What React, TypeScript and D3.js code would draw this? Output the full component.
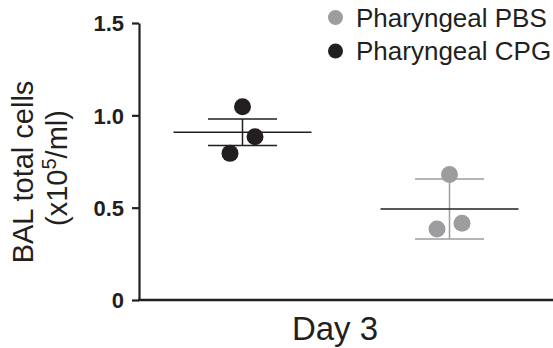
import React, { useRef, useEffect } from 'react';
import * as d3 from 'd3';

const groups = ['Pharyngeal CPG', 'Pharyngeal PBS'];
const cpgValues = [0.794, 1.047, 0.884];
const pbsValues = [0.384, 0.68, 0.415];
const means = [0.908, 0.493];
const errLow = [0.836, 0.33];
const errHigh = [0.98, 0.655];
const yTicks = [0, 0.5, 1.0, 1.5];
const legendLabels = ['Pharyngeal PBS', 'Pharyngeal CPG'];

const dark = '#231f20';
const gray = '#9d9d9f';
const groupColors = [dark, gray];
const legendColors = [gray, dark];

const App = () => {
  const chartRef = useRef<SVGSVGElement>(null);

  useEffect(() => {
    const svg = d3.select(chartRef.current);
    svg.selectAll('*').remove();

    const y = d3.scaleLinear().domain([0, 1.5]).range([300, 23]);
    const x = d3.scalePoint().domain(groups).range([139, 553]).padding(0.5);
    const jitter = d3.scalePoint<number>().domain([0, 1, 2]).range([-12.5, 12.5]);

    const font = '"Liberation Sans", Arial, sans-serif';

    // y axis
    const yAxis = svg
      .append('g')
      .attr('transform', 'translate(139,0)')
      .call(
        d3
          .axisLeft(y)
          .tickValues(yTicks)
          .tickSize(7)
          .tickSizeOuter(0)
          .tickPadding(8)
          .tickFormat((d) => (d === 0 ? '0' : d3.format('.1f')(d as number)))
      );
    yAxis.select('.domain').attr('stroke', dark).attr('stroke-width', 2.2);
    yAxis.selectAll('.tick line').attr('stroke', dark).attr('stroke-width', 2.2);
    yAxis
      .selectAll('.tick text')
      .attr('fill', dark)
      .attr('font-family', font)
      .attr('font-weight', 'bold')
      .attr('font-size', 22)
      .attr('dy', '0.36em');

    // x axis line
    svg
      .append('line')
      .attr('x1', 138)
      .attr('x2', 553)
      .attr('y1', y(0))
      .attr('y2', y(0))
      .attr('stroke', dark)
      .attr('stroke-width', 2.4);

    // mean + error bars
    groups.forEach((g, i) => {
      const cx = x(g) as number;
      const c = groupColors[i];
      const grp = svg.append('g');
      grp
        .append('line')
        .attr('x1', cx)
        .attr('x2', cx)
        .attr('y1', y(errLow[i]))
        .attr('y2', y(errHigh[i]))
        .attr('stroke', c)
        .attr('stroke-width', 1.5);
      [errLow[i], errHigh[i]].forEach((v) => {
        grp
          .append('line')
          .attr('x1', cx - 34.5)
          .attr('x2', cx + 34.5)
          .attr('y1', y(v))
          .attr('y2', y(v))
          .attr('stroke', c)
          .attr('stroke-width', 1.5);
      });
      grp
        .append('line')
        .attr('x1', cx - 69)
        .attr('x2', cx + 69)
        .attr('y1', y(means[i]))
        .attr('y2', y(means[i]))
        .attr('stroke', dark)
        .attr('stroke-width', 1.6);
    });

    // points
    [cpgValues, pbsValues].forEach((vals, i) => {
      svg
        .append('g')
        .selectAll('circle')
        .data(vals)
        .join('circle')
        .attr('cx', (d, j) => (x(groups[i]) as number) + (jitter(j) as number))
        .attr('cy', (d) => y(d))
        .attr('r', 8.5)
        .attr('fill', groupColors[i]);
    });

    // legend
    const legend = svg.append('g');
    legendLabels.forEach((l, i) => {
      legend
        .append('circle')
        .attr('cx', 335.5)
        .attr('cy', 17.5 + i * 33.5)
        .attr('r', 7.5)
        .attr('fill', legendColors[i]);
      legend
        .append('text')
        .attr('x', 356)
        .attr('y', 26.5 + i * 33.5)
        .attr('font-family', font)
        .attr('font-size', 26)
        .attr('fill', dark)
        .text(l);
    });

    // y title
    const yt = svg
      .append('text')
      .attr('transform', 'translate(33,172) rotate(-90)')
      .attr('text-anchor', 'middle')
      .attr('font-family', font)
      .attr('font-size', 29)
      .attr('fill', dark);
    yt.append('tspan').attr('x', 0).attr('y', 0).text('BAL total cells');
    const yt2 = svg
      .append('text')
      .attr('transform', 'translate(67,168) rotate(-90)')
      .attr('text-anchor', 'middle')
      .attr('font-family', font)
      .attr('font-size', 29)
      .attr('fill', dark);
    yt2.append('tspan').text('(x10');
    yt2.append('tspan').attr('font-size', 20).attr('dy', -11).text('5');
    yt2.append('tspan').attr('dy', 11).text('/ml)');

    // x title
    svg
      .append('text')
      .attr('x', 335)
      .attr('y', 340)
      .attr('text-anchor', 'middle')
      .attr('font-family', font)
      .attr('font-size', 33)
      .attr('fill', dark)
      .text('Day 3');
  });

  return (
    <div style={{ position: 'absolute', top: 0, left: 0 }}>
      <svg ref={chartRef} width={553} height={348} style={{ display: 'block', background: '#fff' }}></svg>
    </div>
  );
};

export default App;
